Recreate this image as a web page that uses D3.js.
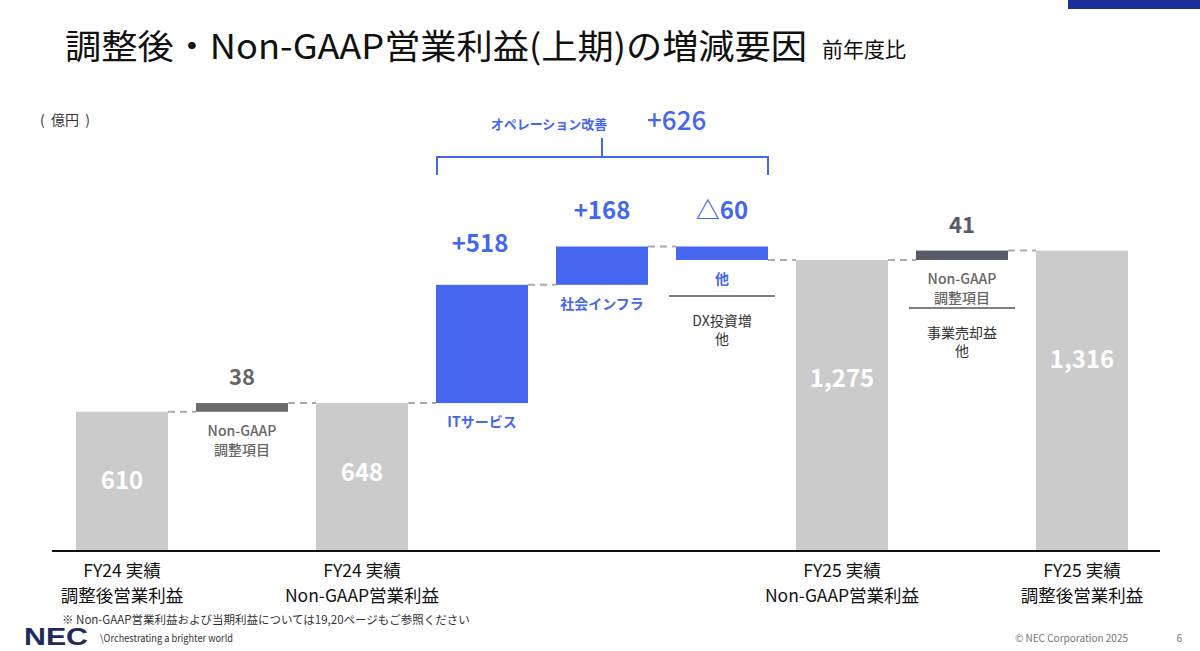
<!DOCTYPE html>
<html><head><meta charset="utf-8">
<script src="https://cdn.jsdelivr.net/npm/d3@7/dist/d3.min.js"></script>
<style>
html,body{margin:0;padding:0;background:#fff;}
svg{display:block;font-family:"Noto Sans CJK JP","Noto Sans",sans-serif;}
</style></head>
<body>
<svg id="chart" width="1200" height="651"></svg>
<script>
// ---- data ----
const categories = ["FY24実績調整後", "NonGAAP調整1", "FY24実績NonGAAP", "ITサービス", "社会インフラ", "他", "FY25実績NonGAAP", "NonGAAP調整2", "FY25実績調整後"];
const barTypes   = ["total", "adj", "total", "op", "op", "op", "total", "adj", "total"];
const barStart   = [0, 610, 0, 648, 1166, 1334, 0, 1275, 0];
const barEnd     = [610, 648, 648, 1166, 1334, 1275, 1275, 1316, 1316];
const valueLabels = ["610", "38", "648", "+518", "+168", "△60", "1,275", "41", "1,316"];
const axisLabels = [
  ["FY24 実績", "調整後営業利益"], null, ["FY24 実績", "Non-GAAP営業利益"], null, null, null,
  ["FY25 実績", "Non-GAAP営業利益"], null, ["FY25 実績", "調整後営業利益"]
];
const opTotalLabel = "+626";
const opTitle = "オペレーション改善";

const svg = d3.select("#chart");
const BLUE = "#4467ee";
const base = 551;

const x = d3.scaleBand().domain(d3.range(categories.length)).range([62, 1142])
  .paddingInner(28/120).paddingOuter(14/120);
const y = d3.scaleLinear().domain([0, 1316]).range([base, base - 300.4]);
const bw = x.bandwidth();
const cx = i => x(i) + bw / 2;

// title
svg.append("text").attr("x", 65).attr("y", 59).attr("font-size", 34).attr("fill", "#111")
  .attr("textLength", 742).attr("lengthAdjust", "spacingAndGlyphs")
  .text("調整後・Non-GAAP営業利益(上期)の増減要因");
svg.append("text").attr("x", 822).attr("y", 57).attr("font-size", 21).attr("fill", "#111").text("前年度比");
svg.append("rect").attr("x", 1068).attr("y", 0).attr("width", 132).attr("height", 9).attr("fill", "#1c2f9a");

svg.append("text").attr("x", 40).attr("y", 125).attr("font-size", 14).attr("fill", "#333")
  .attr("xml:space", "preserve").style("white-space", "pre").text("(  億円  )");

// connectors
for (let i = 0; i < categories.length - 1; i++) {
  const v = barEnd[i];
  svg.append("line").attr("x1", x(i) + bw).attr("x2", x(i + 1))
    .attr("y1", y(v)).attr("y2", y(v))
    .attr("stroke", "#aaa").attr("stroke-width", 2).attr("stroke-dasharray", "7,5");
}

// bars
const colorOf = (t, i) => t === "total" ? "#cbcbcb" : t === "op" ? BLUE : (i === 1 ? "#6b6b6b" : "#565b67");
svg.selectAll("rect.bar").data(categories).enter().append("rect").attr("class", "bar")
  .attr("x", (d, i) => x(i))
  .attr("y", (d, i) => y(Math.max(barStart[i], barEnd[i])))
  .attr("width", bw)
  .attr("height", (d, i) => Math.abs(y(barStart[i]) - y(barEnd[i])))
  .attr("fill", (d, i) => colorOf(barTypes[i], i));

// baseline
svg.append("line").attr("x1", 52).attr("x2", 1160).attr("y1", base).attr("y2", base)
  .attr("stroke", "#111").attr("stroke-width", 2);

// total labels inside bars (fraction of height where label sits)
const insideFrac = {0: 0.5, 2: 0.53, 6: 0.59, 8: 0.635};
Object.keys(insideFrac).forEach(k => {
  const i = +k;
  svg.append("text").attr("x", cx(i)).attr("y", y(barEnd[i] * insideFrac[k]) + 8)
    .attr("text-anchor", "middle").attr("font-size", 24).attr("font-weight", "bold")
    .attr("fill", "#fff").text(valueLabels[i]);
});

// multi-line helper (single text element with tspans)
function multi(xp, yp, lines, lh, attrs) {
  const t = svg.append("text").attr("x", xp).attr("y", yp).attr("text-anchor", "middle");
  Object.entries(attrs).forEach(([k, v]) => t.attr(k, v));
  lines.forEach((s, k) => t.append("tspan").attr("x", xp).attr("dy", k === 0 ? 0 : lh).text(s));
  return t;
}

// adj labels
[1, 7].forEach(i => {
  const top = y(barEnd[i]);
  const bot = y(barStart[i]);
  svg.append("text").attr("x", cx(i)).attr("y", top - 18).attr("text-anchor", "middle")
    .attr("font-size", 22).attr("font-weight", "bold").attr("fill", i === 1 ? "#666" : "#555a66")
    .text(valueLabels[i]);
  multi(cx(i), bot + 24, ["Non-GAAP", "調整項目"], 19, {"font-size": 14, "font-weight": 500, "fill": "#666"});
});
// sub-notes with separator
function note(i, lineY, lines) {
  svg.append("line").attr("x1", cx(i) - 53).attr("x2", cx(i) + 53).attr("y1", lineY).attr("y2", lineY)
    .attr("stroke", "#555").attr("stroke-width", 1.5);
  multi(cx(i), lineY + 30, lines, 18, {"font-size": 14, "fill": "#333"});
}
note(7, y(barStart[7]) + 48, ["事業売却益", "他"]);

// operation labels
const opNames = {3: "ITサービス", 4: "社会インフラ", 5: "他"};
[3, 4, 5].forEach(i => {
  const top = y(Math.max(barStart[i], barEnd[i]));
  const bot = y(Math.min(barStart[i], barEnd[i]));
  svg.append("text").attr("x", cx(i) - (i === 3 ? 2 : 0)).attr("y", i === 3 ? top - 33 : 219)
    .attr("text-anchor", "middle").attr("font-size", 24).attr("font-weight", "bold").attr("fill", BLUE)
    .text(valueLabels[i]);
  svg.append("text").attr("x", cx(i)).attr("y", bot + 24).attr("text-anchor", "middle")
    .attr("font-size", 14).attr("font-weight", "bold").attr("fill", BLUE).text(opNames[i]);
});
note(5, y(barEnd[5]) + 36, ["DX投資増", "他"]);

// bracket
const bx1 = x(3) + 1, bx2 = x(5) + bw;
const bMid = cx(4);
svg.append("path")
  .attr("d", `M${bx1},175 V157 H${bx2} V175 M${bMid},157 V138`)
  .attr("fill", "none").attr("stroke", BLUE).attr("stroke-width", 2);
svg.append("text").attr("x", 549).attr("y", 129).attr("text-anchor", "middle")
  .attr("font-size", 13).attr("font-weight", "bold").attr("fill", BLUE).text(opTitle);
svg.append("text").attr("x", 647).attr("y", 130)
  .attr("font-size", 26).attr("font-weight", 500).attr("fill", BLUE).text(opTotalLabel);

// axis labels
axisLabels.forEach((ls, i) => {
  if (!ls) return;
  multi(cx(i), 577, ls, 25, {"font-size": 17.5, "fill": "#111"});
});

// footer
svg.append("text").attr("x", 62).attr("y", 624).attr("font-size", 11.5).attr("fill", "#333")
  .text("※  Non-GAAP営業利益および当期利益については19,20ページもご参照ください");
svg.append("text").attr("x", 24).attr("y", 645).attr("font-size", 23).attr("font-weight", 900)
  .attr("fill", "#1e2a5e").attr("font-family", "Liberation Sans, Arial, sans-serif")
  .attr("textLength", 64).attr("lengthAdjust", "spacingAndGlyphs").text("NEC");
svg.append("text").attr("x", 100).attr("y", 642).attr("font-size", 10).attr("fill", "#333")
  .attr("textLength", 133).attr("lengthAdjust", "spacingAndGlyphs")
  .text("\\Orchestrating a brighter world");
svg.append("text").attr("x", 1128).attr("y", 642).attr("text-anchor", "end").attr("font-size", 10)
  .attr("fill", "#777").text("© NEC Corporation 2025");
svg.append("text").attr("x", 1182).attr("y", 642).attr("text-anchor", "end").attr("font-size", 10)
  .attr("fill", "#777").text("6");
</script>
</body></html>
